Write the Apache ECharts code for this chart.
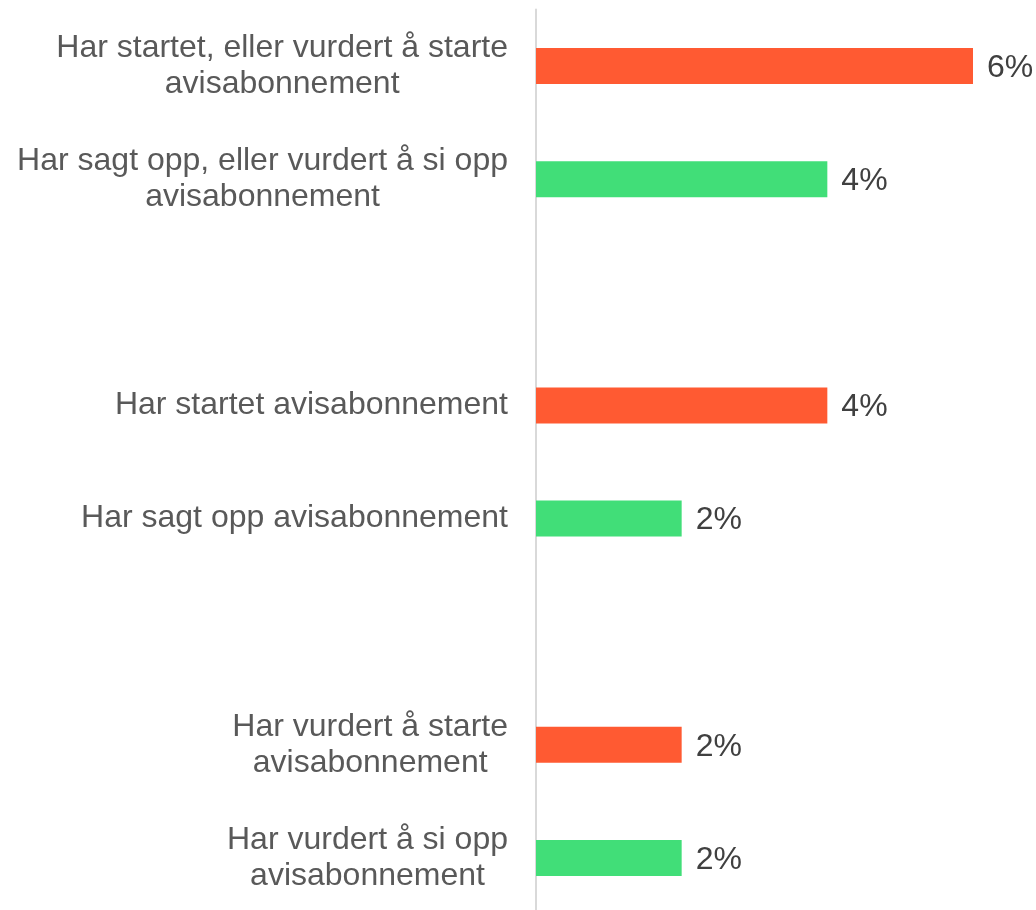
<!DOCTYPE html>
<html>
<head>
<meta charset="utf-8">
<script src="https://cdn.jsdelivr.net/npm/echarts@6/dist/echarts.min.js"></script>
<style>
  html, body { margin: 0; padding: 0; background: #fff; }
  #main { width: 1036px; height: 910px; }
</style>
</head>
<body>
<div id="main"></div>
<script>
// kategorier (tomme plasser gir mellomrom mellom gruppene)
var categories = [
  'Har startet, eller vurdert å starte\navisabonnement',
  'Har sagt opp, eller vurdert å si opp\navisabonnement',
  '',
  'Har startet avisabonnement',
  'Har sagt opp avisabonnement',
  '',
  'Har vurdert å starte\navisabonnement',
  'Har vurdert å si opp\navisabonnement'
];
// andel i prosent
var startValues = [6, null, null, 4, null, null, 2, null];
var stopValues = [null, 4, null, null, 2, null, null, 2];

var font = '"Liberation Sans", Arial, sans-serif';

var myChart = echarts.init(document.getElementById('main'));

var valueLabel = {
  show: true,
  position: 'right',
  distance: 14,
  offset: [0, 2],
  formatter: '{c}%',
  fontSize: 32,
  fontFamily: font,
  color: '#404040'
};

var option = {
  animation: false,
  grid: {
    left: 536, top: 9.5, width: 437, height: 905,
    containLabel: false,
    outerBoundsMode: 'none'
  },
  xAxis: {
    type: 'value',
    min: 0,
    max: 6,
    show: false
  },
  yAxis: {
    type: 'category',
    inverse: true,
    data: categories,
    axisLine: { show: true, lineStyle: { color: '#d9d9d9', width: 2 } },
    axisTick: { show: false },
    splitLine: { show: false },
    axisLabel: {
      interval: 0,
      margin: 28,
      align: 'right',
      formatter: function (v) {
        if (!v) return '';
        return v.split('\n').map(function (s) { return '{c|' + s + '}'; }).join('\n');
      },
      rich: {
        c: {
          align: 'center',
          fontSize: 32,
          lineHeight: 36,
          fontFamily: font,
          color: '#595959'
        }
      }
    }
  },
  series: [
    {
      name: 'Starte',
      type: 'bar',
      data: startValues,
      barWidth: 36,
      barGap: '-100%',
      itemStyle: { color: '#ff5a32' },
      label: valueLabel
    },
    {
      name: 'Si opp',
      type: 'bar',
      data: stopValues,
      barWidth: 36,
      itemStyle: { color: '#41de78' },
      label: valueLabel
    }
  ]
};

myChart.setOption(option);
</script>
</body>
</html>
